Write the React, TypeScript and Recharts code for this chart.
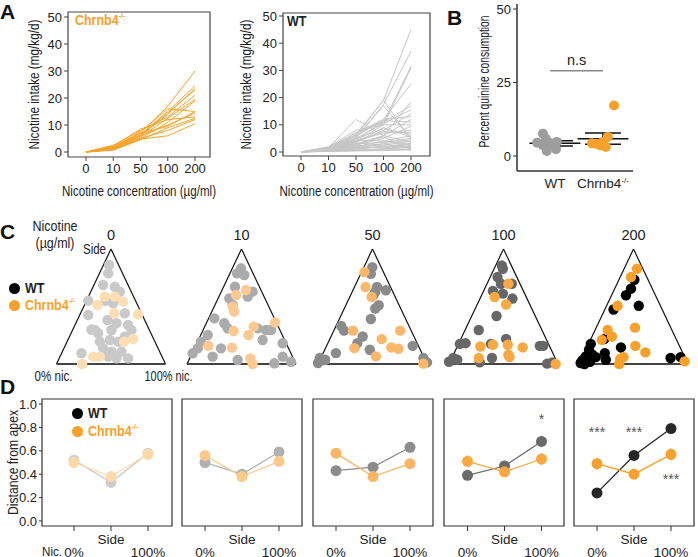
import React from "react";
import {
  ErrorBar,
  Label,
  Line,
  LineChart,
  ReferenceArea,
  ReferenceDot,
  ReferenceLine,
  Scatter,
  ScatterChart,
  XAxis,
  YAxis,
} from "recharts";

const FONT = "'Liberation Sans', Arial, sans-serif";
const INK = "#222";

// ---- A: nicotine intake per mouse ----
const concentrations = ["0", "10", "50", "100", "200"];

const koIntake = [
  [0, 1.5, 7, 17, 30],
  [0, 2.0, 6.5, 15, 24.5],
  [0, 1.0, 6, 14, 23.5],
  [0, 2.5, 8, 13, 21],
  [0, 1.2, 5.5, 12.5, 19.5],
  [0, 0.8, 5, 11, 19],
  [0, 1.8, 7.5, 16, 15],
  [0, 1.5, 6, 10, 14.5],
  [0, 2.2, 8.5, 12, 13],
  [0, 0.7, 4.5, 9, 12.5],
  [0, 1.3, 5, 8, 12],
  [0, 1.0, 4.8, 6, 10.5],
  [0, 2.0, 7, 9.5, 15],
  [0, 1.6, 6.2, 14.5, 23],
];

const wtIntake = [
  [0, 1.5, 6, 19, 45],
  [0, 1.2, 5, 17.5, 37],
  [0, 1.8, 7, 11, 31.5],
  [0, 1.0, 4, 10, 31],
  [0, 1.4, 6, 12, 25],
  [0, 1.6, 12, 6, 18.5],
  [0, 1.3, 5.5, 17, 5],
  [0, 1.1, 6.5, 19, 4.5],
  [0, 0.9, 4.5, 11, 17],
  [0, 1.2, 5, 10.5, 15.5],
  [0, 1.0, 3.5, 8, 14],
  [0, 1.5, 7, 12, 13],
  [0, 0.8, 3, 6, 12],
  [0, 1.7, 6, 11.5, 11],
  [0, 0.7, 2.5, 5, 9.5],
  [0, 1.3, 4, 7, 8],
  [0, 0.6, 2, 4, 6],
  [0, 1.0, 3.5, 9, 5.5],
  [0, 0.9, 3, 3.5, 5],
  [0, 0.5, 1.5, 3, 4.5],
  [0, 0.8, 2, 2.5, 4],
  [0, 1.1, 2.5, 6, 3.5],
  [0, 0.4, 1, 2, 3.2],
  [0, 0.6, 1.8, 1.5, 3],
  [0, 1.2, 4.5, 4, 2.8],
  [0, 0.5, 0.8, 1, 2.5],
  [0, 0.7, 1.2, 2.2, 2],
  [0, 0.3, 0.5, 1.2, 1.8],
  [0, 0.9, 2.2, 3, 1.5],
  [0, 0.4, 0.6, 0.8, 1.2],
  [0, 1.0, 3, 5.5, 1],
  [0, 0.2, 0.4, 0.5, 0.8],
  [0, 0.6, 1.5, 1.8, 0.6],
  [0, 1.4, 5, 8.5, 6.5],
  [0, 1.9, 8, 10, 10],
  [0, 0.8, 4, 7.5, 7],
];

// ---- B: quinine ----
const groups = ["WT", "Chrnb4"];
const quinineWt = [
  [-0.25, 7.6], [-0.19, 5.9], [-0.37, 4.5], [-0.12, 4.5], [0.04, 4.8],
  [-0.17, 1.7], [0.02, 2.3], [-0.25, 3.7], [-0.04, 4.0],
];
const quinineKo = [
  [0.23, 17.2], [0.1, 6.5], [-0.15, 4.2], [-0.06, 3.7], [0.06, 3.1],
  [-0.23, 4.3], [0.0, 4.8],
];
const quinineMean = [4.3, 5.9];
const quinineSem = [0.9, 1.9];

// ---- C: ternary positions (x across base, y up to apex) ----
const ternaryWt = [
  [[0.483, 0.861], [0.474, 0.788], [0.428, 0.687], [0.535, 0.672], [0.581, 0.629], [0.291, 0.551], [0.52, 0.528], [0.291, 0.426], [0.468, 0.383], [0.55, 0.354], [0.627, 0.441], [0.657, 0.339], [0.352, 0.296], [0.382, 0.267], [0.505, 0.296], [0.688, 0.296], [0.398, 0.194], [0.489, 0.209], [0.566, 0.194], [0.627, 0.238], [0.428, 0.136], [0.505, 0.107], [0.596, 0.107], [0.229, 0.093], [0.474, 0.064], [0.55, 0.049], [0.657, 0.049], [0.32, 0.3], [0.45, 0.55]],
  [[0.495, 0.832], [0.459, 0.788], [0.526, 0.774], [0.44, 0.672], [0.602, 0.629], [0.557, 0.586], [0.388, 0.571], [0.419, 0.513], [0.251, 0.397], [0.342, 0.354], [0.373, 0.31], [0.648, 0.31], [0.725, 0.296], [0.771, 0.296], [0.19, 0.252], [0.128, 0.194], [0.098, 0.136], [0.052, 0.093], [0.312, 0.136], [0.235, 0.064], [0.465, 0.035], [0.801, 0.006], [0.878, 0.064], [0.954, 0.02], [0.878, 0.18], [0.694, 0.209]],
  [[0.498, 0.842], [0.485, 0.784], [0.541, 0.67], [0.525, 0.626], [0.623, 0.641], [0.508, 0.598], [0.557, 0.511], [0.525, 0.483], [0.485, 0.391], [0.213, 0.33], [0.239, 0.29], [0.41, 0.239], [0.361, 0.181], [0.164, 0.095], [0.475, 0.124], [0.869, 0.158], [0.016, 0.052], [0.0, 0.009], [0.066, 0.037], [0.967, 0.052], [1.0, 0.014]],
  [[0.485, 0.856], [0.494, 0.828], [0.445, 0.756], [0.476, 0.698], [0.576, 0.698], [0.403, 0.635], [0.494, 0.612], [0.582, 0.569], [0.436, 0.417], [0.273, 0.296], [0.152, 0.181], [0.1, 0.175], [0.385, 0.175], [0.524, 0.218], [0.833, 0.158], [0.864, 0.158], [0.039, 0.052], [0.076, 0.037], [0.282, 0.014], [0.394, 0.052], [0.9, 0.003], [0.948, 0.014], [0.0, 0.02]],
  [[0.508, 0.733], [0.477, 0.655], [0.431, 0.598], [0.548, 0.506], [0.317, 0.474], [0.231, 0.216], [0.385, 0.144], [0.237, 0.095], [0.246, 0.037], [0.108, 0.175], [0.092, 0.124], [0.123, 0.08], [0.062, 0.066], [0.031, 0.032], [0.015, 0.009], [0.077, 0.023], [0.154, 0.06], [0.84, 0.052], [0.932, 0.06], [0.1, 0.02], [0.05, 0.0]],
];
const ternaryKo = [
  [[0.443, 0.586], [0.535, 0.586], [0.612, 0.542], [0.376, 0.513], [0.529, 0.441], [0.749, 0.432], [0.621, 0.194], [0.703, 0.217], [0.336, 0.064], [0.398, 0.064], [0.235, 0.0]],
  [[0.45, 0.6], [0.541, 0.643], [0.419, 0.499], [0.434, 0.455], [0.428, 0.287], [0.612, 0.325], [0.563, 0.252], [0.807, 0.362], [0.196, 0.159], [0.413, 0.142], [0.581, 0.049], [0.602, 0.0]],
  [[0.426, 0.799], [0.436, 0.67], [0.492, 0.583], [0.321, 0.29], [0.754, 0.29], [0.584, 0.216], [0.672, 0.144], [0.738, 0.132], [0.334, 0.138], [0.531, 0.066], [0.967, 0.003]],
  [[0.545, 0.698], [0.418, 0.583], [0.524, 0.517], [0.288, 0.152], [0.403, 0.167], [0.539, 0.167], [0.676, 0.144], [0.545, 0.08], [0.555, 0.06], [0.273, 0.052], [0.979, 0.0]],
  [[0.532, 0.828], [0.477, 0.756], [0.354, 0.506], [0.262, 0.296], [0.209, 0.21], [0.302, 0.239], [0.514, 0.316], [0.517, 0.158], [0.609, 0.101], [0.409, 0.06], [0.378, 0.043], [0.369, 0.0], [0.969, 0.023]],
];

// ---- D: distance from apex ----
const positions = ["0%", "Side", "100%"];
const distWt = [[0.52, 0.33, 0.58], [0.5, 0.4, 0.59], [0.43, 0.46, 0.63], [0.39, 0.47, 0.68], [0.24, 0.56, 0.79]];
const distKo = [[0.5, 0.38, 0.57], [0.56, 0.38, 0.51], [0.58, 0.38, 0.49], [0.51, 0.42, 0.53], [0.49, 0.4, 0.57]];
const distWtErr = [[0.02, 0.02, 0.02], [0.02, 0.02, 0.02], [0.02, 0.02, 0.02], [0.02, 0.02, 0.02], [0.04, 0.02, 0.03]];
const distKoErr = [[0.03, 0.03, 0.03], [0.03, 0.02, 0.03], [0.04, 0.03, 0.04], [0.05, 0.03, 0.05], [0.05, 0.03, 0.05]];
const stars = [[], [], [], [[2, 0.87, "*"]], [[0, 0.76, "***"], [1, 0.76, "***"], [2, 0.36, "***"]]];

const wtShades = ["#cdcdcd", "#b1b1b1", "#8c8c8c", "#6a6a6a", "#262626"];
const koShades = ["#fdd9a9", "#fcc98c", "#fbb565", "#f9a73f", "#f7a12d"];
const wtDots = ["#c9c9c9", "#ababab", "#8b8b8b", "#676767", "#000000"];
const koDots = ["#fdddb2", "#fdc992", "#fbb86a", "#f9a843", "#f7a12b"];
const ORANGE = "#f7a12b";

const tickStyle = { fill: INK, fontSize: 13, fontFamily: FONT };
const titleStyle = { fill: INK, fontSize: 15.5, fontFamily: FONT, textAnchor: "middle" as const };

// narrow look: the reference uses a condensed face, so squeeze html text a little
function Txt({ x, y, children, style, anchor = "middle", sx = 0.86 }: any) {
  const tx = anchor === "middle" ? "-50%" : anchor === "end" ? "-100%" : "0";
  return (
    <div
      style={{
        position: "absolute",
        left: x,
        top: y,
        transform: `translate(${tx}, -50%) scaleX(${sx})`,
        transformOrigin: anchor === "start" ? "left center" : "center",
        whiteSpace: "nowrap",
        lineHeight: 1,
        fontFamily: FONT,
        fontSize: 14.5,
        color: INK,
        ...style,
      }}
    >
      {children}
    </div>
  );
}

function KoName({ color = ORANGE, size = 14.5 }: any) {
  return (
    <span style={{ color, fontWeight: "bold", fontSize: size }}>
      Chrnb4<sup style={{ fontSize: size * 0.55, verticalAlign: "top", position: "relative", top: -1 }}>-/-</sup>
    </span>
  );
}

function intakeRows(lines: number[][]) {
  return concentrations.map((_, i) => {
    const row: Record<string, number> = { pos: i };
    lines.forEach((l, j) => (row[`m${j}`] = l[i]));
    return row;
  });
}

function IntakeChart({ lines, color, left, width, yAxisWidth, top, xAxisHeight, xDomain, yDomain, labelOffset }: any) {
  return (
    <div style={{ position: "absolute", left, top: 0 }}>
      <LineChart width={width} height={200} data={intakeRows(lines)} margin={{ top, right: 15, bottom: 0, left: 0 }}>
        <XAxis
          type="number"
          dataKey="pos"
          domain={xDomain}
          ticks={[0, 1, 2, 3, 4]}
          interval={0}
          tickFormatter={(v: number) => concentrations[v]}
          axisLine={false}
          tickSize={4}
          tickMargin={3}
          tickLine={{ stroke: "#444" }}
          tick={tickStyle}
          height={xAxisHeight}
        >
          <Label
            value="Nicotine concentration (µg/ml)"
            position="insideBottom"
            offset={4}
            style={titleStyle}
            textLength={154}
            lengthAdjust="spacingAndGlyphs"
          />
        </XAxis>
        <YAxis
          type="number"
          domain={yDomain}
          ticks={[0, 10, 20, 30, 40, 50]}
          axisLine={false}
          tickSize={4}
          tickMargin={2}
          tickLine={{ stroke: "#444" }}
          tick={tickStyle}
          width={yAxisWidth}
        >
          <Label
            value="Nicotine intake (mg/kg/d)"
            angle={-90}
            position="insideLeft"
            offset={labelOffset}
            style={titleStyle}
            textLength={130}
            lengthAdjust="spacingAndGlyphs"
          />
        </YAxis>
        <ReferenceArea
          x1={xDomain[0]}
          x2={xDomain[1]}
          y1={yDomain[0]}
          y2={yDomain[1]}
          fill="none"
          stroke="#444"
          strokeWidth={1.2}
          ifOverflow="visible"
        />
        {lines.map((_: number[], j: number) => (
          <Line
            key={j}
            dataKey={`m${j}`}
            stroke={color}
            strokeWidth={1}
            dot={false}
            isAnimationActive={false}
          />
        ))}
      </LineChart>
    </div>
  );
}

function GroupTick({ x, y, payload }: any) {
  const name = groups[payload.value - 1];
  return (
    <text x={x} y={y + 9} textAnchor="middle" fontSize={13.5} fontFamily={FONT} fill={INK}>
      {name}
      {name === "Chrnb4" ? (
        <tspan fontSize={8} dy={-5}>
          -/-
        </tspan>
      ) : null}
    </text>
  );
}

function dot(color: string, r: number) {
  return (p: any) => <circle cx={p.cx} cy={p.cy} r={r} fill={color} />;
}

function QuinineChart() {
  const wt = quinineWt.map(([dx, y]) => ({ x: 1 + dx, y }));
  const ko = quinineKo.map(([dx, y]) => ({ x: 2 + dx, y }));
  const means = quinineMean.map((m, i) => ({ x: i + 1, y: m, ex: 0.53, ey: quinineSem[i] }));
  return (
    <div style={{ position: "absolute", left: 460, top: 0 }}>
      <ScatterChart width={238} height={200} margin={{ top: 4, right: 65, bottom: 0, left: 0 }}>
        <XAxis
          type="number"
          dataKey="x"
          domain={[0.21, 2.625]}
          ticks={[1, 2]}
          tick={<GroupTick />}
          tickLine={false}
          axisLine={{ stroke: "#333", strokeWidth: 1.5 }}
          height={29}
        />
        <YAxis
          type="number"
          dataKey="y"
          domain={[-5.1, 51.7]}
          ticks={[0, 25, 50]}
          width={57}
          axisLine={{ stroke: "#333", strokeWidth: 1.5 }}
          tickSize={4}
          tickMargin={2}
          tickLine={{ stroke: "#333" }}
          tick={tickStyle}
        >
          <Label
            value="Percent quinine consumption"
            angle={-90}
            position="insideLeft"
            offset={23}
            dy={-6}
            style={titleStyle}
            textLength={132}
            lengthAdjust="spacingAndGlyphs"
          />
        </YAxis>
        <ReferenceLine
          segment={[{ x: 0.9, y: 29 }, { x: 2.0, y: 29 }]}
          stroke="#8a8a8a"
          strokeWidth={1.5}
          label={{ value: "n.s", position: "top", offset: 6, fill: INK, fontSize: 14.5, fontFamily: FONT }}
        />
        <Scatter data={wt} shape={dot("#9d9d9d", 5)} isAnimationActive={false} />
        <Scatter data={ko} shape={dot(ORANGE, 5)} isAnimationActive={false} />
        <Scatter data={means} shape={() => <g />} isAnimationActive={false}>
          <ErrorBar dataKey="ex" direction="x" width={0} stroke="#111" strokeWidth={1.5} />
          <ErrorBar dataKey="ey" direction="y" width={18} stroke="#111" strokeWidth={1.5} />
        </Scatter>
      </ScatterChart>
    </div>
  );
}

const apexX = [111, 241.7, 372.3, 503.3, 633.7];

function TernaryChart({ i }: { i: number }) {
  const half = 54.5;
  const first = i === 0;
  const left = first ? 25 : apexX[i] - half - 10;
  const width = first ? 172 : 2 * half + 20;
  const ml = apexX[i] - half - left;
  const mr = width - ml - 2 * half;
  const wt = ternaryWt[i].map(([x, y]) => ({ x, y }));
  const ko = ternaryKo[i].map(([x, y]) => ({ x, y }));
  const lab = { fill: INK, fontSize: 14.5, fontFamily: FONT };
  return (
    <div style={{ position: "absolute", left, top: 215 }}>
      <ScatterChart width={width} height={175} margin={{ top: 34, right: mr, bottom: 26, left: ml }}>
        <XAxis type="number" dataKey="x" domain={[0, 1]} hide />
        <YAxis type="number" dataKey="y" domain={[0, 1]} hide />
        <ReferenceLine segment={[{ x: 0, y: 0 }, { x: 0.5, y: 1 }]} stroke="#111" strokeWidth={1.2} />
        <ReferenceLine segment={[{ x: 0.5, y: 1 }, { x: 1, y: 0 }]} stroke="#111" strokeWidth={1.2} />
        <ReferenceLine segment={[{ x: 0, y: 0 }, { x: 1, y: 0 }]} stroke="#444" strokeWidth={2} />
        <ReferenceDot x={0.5} y={1} r={0} stroke="none" label={{ value: concentrations[i], position: "top", offset: 9, ...lab }} />
        {first && (
          <ReferenceDot
            x={0.5}
            y={1}
            r={0}
            stroke="none"
            label={{ value: "Side", position: "left", offset: 5, ...lab, fontSize: 14, textLength: 23, lengthAdjust: "spacingAndGlyphs" }}
          />
        )}
        {first && (
          <ReferenceDot
            x={0}
            y={0}
            r={0}
            stroke="none"
            label={{ value: "0% nic.", position: "bottom", offset: 7, dx: -3, ...lab, fontSize: 14, textLength: 38, lengthAdjust: "spacingAndGlyphs" }}
          />
        )}
        {first && (
          <ReferenceDot
            x={1}
            y={0}
            r={0}
            stroke="none"
            label={{ value: "100% nic.", position: "bottom", offset: 7, dx: 3, ...lab, fontSize: 14, textLength: 48, lengthAdjust: "spacingAndGlyphs" }}
          />
        )}
        <Scatter data={wt} shape={dot(wtDots[i], 5.2)} isAnimationActive={false} />
        <Scatter data={ko} shape={dot(koDots[i], 5.2)} isAnimationActive={false} />
      </ScatterChart>
    </div>
  );
}

const boxLeft = [42, 182, 313, 443.5, 574];
const boxRight = [172, 302, 433, 563.5, 694];
const firstPos = [74, 205, 336, 467, 597];
const PX_PER_POS = 37;

function PosTick({ x, y, payload }: any) {
  const i = payload.value;
  return (
    <text x={x} y={y + (i === 1 ? 6 : 19)} textAnchor="middle" dominantBaseline="central" fontSize={13.5} fontFamily={FONT} fill={INK}>
      {positions[i]}
    </text>
  );
}

function DistanceChart({ i }: { i: number }) {
  const first = i === 0;
  const left = first ? 0 : boxLeft[i] - 8;
  const yw = first ? 42 : 0;
  const width = boxRight[i] + 4 - left;
  const xDomain = [(boxLeft[i] - firstPos[i]) / PX_PER_POS, (boxRight[i] - firstPos[i]) / PX_PER_POS];
  const yDomain = [-0.043, 1.043];
  const rows = positions.map((_, k) => ({
    pos: k,
    wt: distWt[i][k],
    ko: distKo[i][k],
    wtErr: distWtErr[i][k],
    koErr: distKoErr[i][k],
  }));
  return (
    <div style={{ position: "absolute", left, top: 395 }}>
      <LineChart width={width} height={162} data={rows} margin={{ top: 4, right: 4, bottom: 0, left: first ? 0 : 8 }}>
        <XAxis
          type="number"
          dataKey="pos"
          domain={xDomain}
          ticks={[0, 1, 2]}
          interval={0}
          axisLine={false}
          tickSize={5}
          tickMargin={2}
          tickLine={{ stroke: "#333" }}
          tick={<PosTick />}
          height={31}
        />
        <YAxis
          type="number"
          domain={yDomain}
          ticks={[0, 0.2, 0.4, 0.6, 0.8, 1.0]}
          tickFormatter={(v: number) => v.toFixed(1)}
          hide={!first}
          width={yw}
          axisLine={false}
          tickSize={3}
          tickMargin={2}
          tickLine={{ stroke: "#333" }}
          tick={tickStyle}
        >
          {first && (
            <Label
              value="Distance from apex"
              angle={-90}
              position="insideLeft"
              offset={12}
              style={titleStyle}
              textLength={105}
              lengthAdjust="spacingAndGlyphs"
            />
          )}
        </YAxis>
        <ReferenceArea
          x1={xDomain[0]}
          x2={xDomain[1]}
          y1={yDomain[0]}
          y2={yDomain[1]}
          fill="none"
          stroke="#333"
          strokeWidth={1.2}
          ifOverflow="visible"
        />
        <Line
          dataKey="wt"
          stroke={wtShades[i]}
          strokeWidth={1.3}
          dot={{ r: 5.5, fill: wtShades[i], stroke: "none" }}
          isAnimationActive={false}
        >
          <ErrorBar dataKey="wtErr" direction="y" width={0} stroke={wtShades[i]} strokeWidth={1.5} />
        </Line>
        <Line
          dataKey="ko"
          stroke={koShades[i]}
          strokeWidth={1.3}
          dot={{ r: 5.5, fill: koShades[i], stroke: "none" }}
          isAnimationActive={false}
        >
          <ErrorBar dataKey="koErr" direction="y" width={0} stroke={koShades[i]} strokeWidth={1.5} />
        </Line>
        {stars[i].map(([x, y, s]: any, k: number) => (
          <ReferenceDot
            key={k}
            x={x}
            y={y}
            r={0}
            stroke="none"
            label={{ value: s, position: "center", fill: "#555", fontSize: 14, fontFamily: FONT }}
          />
        ))}
      </LineChart>
    </div>
  );
}

function LegendDot({ x, y, color, r }: any) {
  return (
    <div
      style={{
        position: "absolute",
        left: x - r,
        top: y - r,
        width: 2 * r,
        height: 2 * r,
        borderRadius: "50%",
        background: color,
      }}
    />
  );
}

const letter = { fontWeight: "bold", fontSize: 21, color: "#111" };

export default function App() {
  return (
    <div style={{ position: "absolute", left: 0, top: 0, width: 698, height: 557, background: "#fff", overflow: "hidden" }}>
      <Txt x={0} y={11} anchor="start" sx={1} style={letter}>A</Txt>
      <Txt x={447} y={17} anchor="start" sx={1} style={letter}>B</Txt>
      <Txt x={0} y={231} anchor="start" sx={1} style={letter}>C</Txt>
      <Txt x={0} y={386} anchor="start" sx={1} style={letter}>D</Txt>

      <IntakeChart
        lines={koIntake}
        color="#f7a328"
        left={0}
        width={225}
        top={12}
        yAxisWidth={68}
        xAxisHeight={43}
        xDomain={[-0.66, 4.55]}
        yDomain={[-1.85, 51.85]}
        labelOffset={33}
      />
      <IntakeChart
        lines={wtIntake}
        color="#c6c6c6"
        left={230}
        width={215}
        top={13}
        yAxisWidth={53}
        xAxisHeight={44}
        xDomain={[-0.655, 4.69]}
        yDomain={[-1.47, 51.1]}
        labelOffset={15}
      />
      <Txt x={75} y={20} anchor="start">
        <KoName />
      </Txt>
      <Txt x={287} y={21} anchor="start" style={{ fontWeight: "bold" }}>WT</Txt>

      <QuinineChart />

      <Txt x={55} y={226}>Nicotine</Txt>
      <Txt x={55} y={243}>(µg/ml)</Txt>
      <LegendDot x={14} y={288} r={5.5} color="#000" />
      <Txt x={25} y={288} anchor="start" style={{ fontWeight: "bold" }}>WT</Txt>
      <LegendDot x={14} y={305} r={5.5} color={ORANGE} />
      <Txt x={25} y={305} anchor="start">
        <KoName />
      </Txt>
      {apexX.map((_, i) => (
        <TernaryChart key={i} i={i} />
      ))}

      {boxLeft.map((_, i) => (
        <DistanceChart key={i} i={i} />
      ))}
      <LegendDot x={77} y={413} r={5.5} color="#000" />
      <Txt x={88} y={413} anchor="start" style={{ fontWeight: "bold" }}>WT</Txt>
      <LegendDot x={77} y={431} r={5.5} color={ORANGE} />
      <Txt x={88} y={431} anchor="start">
        <KoName />
      </Txt>
      <Txt x={52} y={552} style={{ fontSize: 13.5 }}>Nic.</Txt>
    </div>
  );
}
